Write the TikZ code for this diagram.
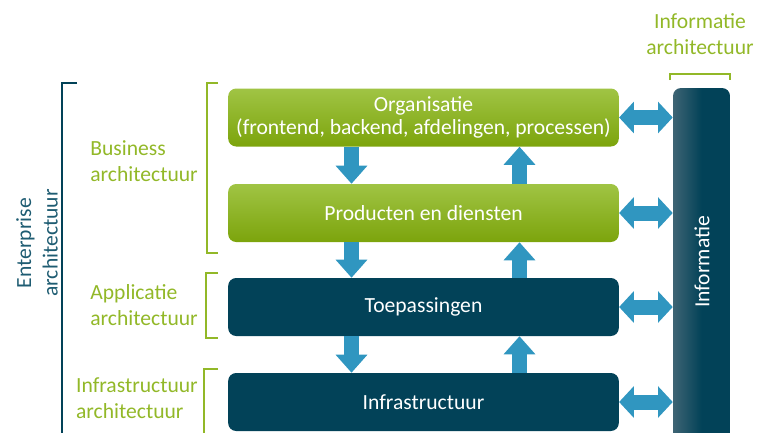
\documentclass[tikz,border=0pt]{standalone}
\usepackage{fontspec}
\setmainfont{Carlito}
\usepackage{tikz}
\usetikzlibrary{arrows.meta,calc,positioning}

\definecolor{groen}{RGB}{146,184,40}
\definecolor{groenlicht}{RGB}{160,196,68}
\definecolor{groendonker}{RGB}{124,164,12}
\definecolor{petrol}{RGB}{2,66,88}
\definecolor{petrollicht}{RGB}{62,100,116}
\definecolor{petroltekst}{RGB}{30,92,114}
\definecolor{pijlblauw}{RGB}{48,150,192}

\begin{document}
\begin{tikzpicture}[
				x = 0.75pt, y = -0.75pt, % one unit is one pixel, top down
				font = \fontsize{16.2}{20}\selectfont,
				laag/.style = {
					rounded corners = 6pt,
					minimum width = 293pt,
					minimum height = 43.5pt,
					text = white,
					align = center,
					font = \fontsize{16.2}{16.8}\selectfont
				},
				business/.style = {laag, top color = groenlicht, bottom color = groendonker},
				techniek/.style = {laag, fill = petrol},
				pijl/.style = {draw = pijlblauw, line width = 11.25pt, -{Triangle[width = 23pt, length = 13.5pt]}},
				dubbel/.style = {draw = pijlblauw, line width = 11.25pt, {Triangle[width = 23pt, length = 11pt]}-{Triangle[width = 23pt, length = 11pt]}},
				groentekst/.style = {text = groen, align = left, inner sep = 0pt},
				haak/.style = {draw = groen, line width = 1.9pt}
			]
			
			\useasboundingbox (0,0) rectangle (759,432);
			
			% lagen
			\node[business] (org) at (423.5,117.5) {Organisatie\\(frontend, backend, afdelingen, processen)};
			\node[business] (prod) at (423.5,213) {Producten en diensten};
			\node[techniek] (toep) at (423.5,307) {Toepassingen};
			\node[techniek] (infra) at (423.5,402) {Infrastructuur};
			
			% informatie
			\node[rounded corners = 6pt, minimum width = 42.75pt, minimum height = 270pt,
				left color = petrollicht, right color = petrol, middle color = petrol] (info) at (701.5,268) {};
			\node[rotate = 90, text = white] (infotekst) at (702,262) {Informatie};
			
			% pijlen tussen de lagen
			\draw[pijl] ($(org.south)+(-72,0)$) -- ($(prod.north)+(-72,0)$);
			\draw[pijl] ($(prod.north)+(96,0)$) -- ($(org.south)+(96,0)$);
			\draw[pijl] ($(prod.south)+(-72,0)$) -- ($(toep.north)+(-72,0)$);
			\draw[pijl] ($(toep.north)+(96,0)$) -- ($(prod.south)+(96,0)$);
			\draw[pijl] ($(toep.south)+(-72,0)$) -- ($(infra.north)+(-72,0)$);
			\draw[pijl] ($(infra.north)+(96,0)$) -- ($(toep.south)+(96,0)$);
			
			% pijlen naar informatie
			\draw[dubbel] (org.east) -- (org.east -| info.west);
			\draw[dubbel] (prod.east) -- (prod.east -| info.west);
			\draw[dubbel] (toep.east) -- (toep.east -| info.west);
			\draw[dubbel] (infra.east) -- (infra.east -| info.west);
			
			% architecturen
			\node[groentekst, align = center] (infoarch) at (700,34) {Informatie\\architectuur};
			\draw[haak] (670,80) -- (670,74) -- (730,74) -- (730,80);
			
			\node[groentekst, anchor = east] (busarch) at (198,161) {Business\\architectuur};
			\draw[haak] (218,83) -- (207,83) -- (207,253) -- (218,253);
			
			\node[groentekst, anchor = east] (apparch) at (198,305) {Applicatie\\architectuur};
			\draw[haak] (218,273) -- (206,273) -- (206,338) -- (218,338);
			
			\node[groentekst, anchor = east] (infraarch) at (198,398) {Infrastructuur\\architectuur};
			\draw[haak] (218,369) -- (204,369) -- (204,445);
			
			\node[rotate = 90, text = petroltekst, align = center] (entarch) at (37,243) {Enterprise\\architectuur};
			\draw[draw = petrol, line width = 2.2pt] (77,83) -- (62,83) -- (62,445);
		\end{tikzpicture}
\end{document}
